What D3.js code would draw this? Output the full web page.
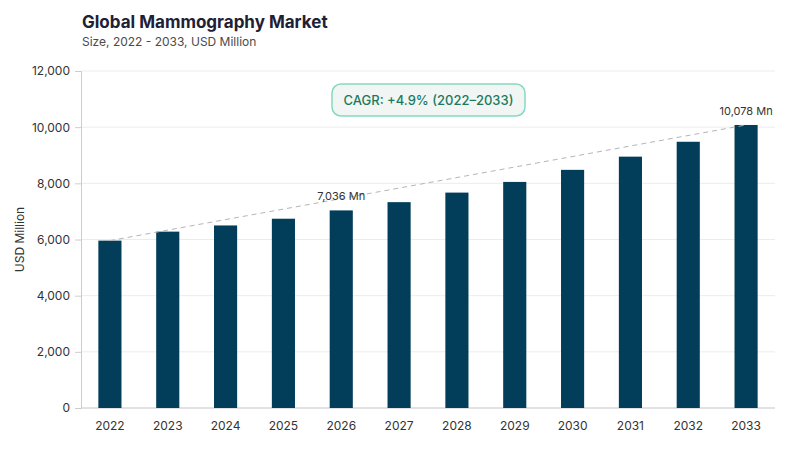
<!DOCTYPE html>
<html>
<head>
<meta charset="utf-8">
<script src="https://cdn.jsdelivr.net/npm/d3@7"></script>
<style>
  body { margin: 0; background: #fff; }
  svg { font-family: Inter, "Noto Sans", sans-serif; }
</style>
</head>
<body>
<svg id="chart"></svg>
<script>
var years = ["2022", "2023", "2024", "2025", "2026", "2027", "2028", "2029", "2030", "2031", "2032", "2033"];
var values = [5960, 6280, 6500, 6740, 7036, 7330, 7670, 8050, 8480, 8950, 9480, 10078];
var yTicks = [0, 2000, 4000, 6000, 8000, 10000, 12000];
var labelled = ["2026", "2033"];

var settings = { width: 800, height: 450 };
var margin = { left: 81, right: 25, top: 71, bottom: 42 };

var svg = d3.select("#chart")
    .attr("width", settings.width)
    .attr("height", settings.height);

var x = d3.scaleBand()
    .domain(years)
    .range([margin.left, settings.width - margin.right])
    .paddingInner(0.6)
    .paddingOuter(0.3);

var y = d3.scaleLinear()
    .domain([0, 12000])
    .range([settings.height - margin.bottom, margin.top]);

// title
svg.append("text")
    .attr("x", 82).attr("y", 28)
    .attr("font-size", 17).attr("font-weight", 700)
    .attr("fill", "#1e2035")
    .text("Global Mammography Market");
svg.append("text")
    .attr("x", 82).attr("y", 46)
    .attr("font-size", 12).attr("fill", "#4a4a4a")
    .text("Size, 2022 - 2033, USD Million");

// grid
svg.append("g")
    .selectAll("line")
    .data(yTicks)
    .enter()
    .append("line")
    .attr("x1", margin.left).attr("x2", settings.width - margin.right)
    .attr("y1", d => y(d)).attr("y2", d => y(d))
    .attr("stroke", d => d === 0 ? "#d8d8de" : "#ececec")
    .attr("stroke-width", d => d === 0 ? 1.5 : 1);

// y axis
var yAxis = svg.append("g")
    .attr("transform", "translate(" + margin.left + ",0)")
    .call(d3.axisLeft(y).tickValues(yTicks).tickFormat(d3.format(",")).tickSize(6).tickPadding(5));
yAxis.select(".domain").attr("stroke", "#cccccc");
yAxis.selectAll(".tick line").attr("stroke", "#cccccc");
yAxis.selectAll("text").attr("font-size", 12).attr("fill", "#333").attr("font-family", "Inter, sans-serif");

svg.append("text")
    .attr("transform", "translate(24," + ((margin.top + settings.height - margin.bottom) / 2) + ") rotate(-90)")
    .attr("text-anchor", "middle")
    .attr("font-size", 12).attr("fill", "#333")
    .text("USD Million");

// x axis labels
svg.append("g")
    .selectAll("text")
    .data(years)
    .enter()
    .append("text")
    .attr("x", d => x(d) + x.bandwidth() / 2)
    .attr("y", settings.height - margin.bottom + 22)
    .attr("text-anchor", "middle")
    .attr("font-size", 12).attr("fill", "#333")
    .text(d => d);

// bars
svg.append("g")
    .selectAll("rect")
    .data(values)
    .enter()
    .append("rect")
    .attr("x", (d, i) => x(years[i]))
    .attr("y", d => y(d))
    .attr("width", x.bandwidth())
    .attr("height", d => y(0) - y(d))
    .attr("fill", "#023e5a");

// trend line
var first = 0, last = values.length - 1;
svg.append("line")
    .attr("x1", x(years[first]) + x.bandwidth() / 2)
    .attr("y1", y(values[first]))
    .attr("x2", x(years[last]) + x.bandwidth() / 2)
    .attr("y2", y(values[last]))
    .attr("stroke", "#b5b5b5")
    .attr("stroke-width", 1)
    .attr("stroke-dasharray", "5,4");

// value labels
svg.append("g")
    .selectAll("text")
    .data(labelled)
    .enter()
    .append("text")
    .attr("x", d => x(d) + x.bandwidth() / 2)
    .attr("y", d => y(values[years.indexOf(d)]) - 10)
    .attr("text-anchor", "middle")
    .attr("font-size", 11).attr("fill", "#333")
    .text(d => d3.format(",")(values[years.indexOf(d)]) + " Mn");

// CAGR box
var box = svg.append("g").attr("transform", "translate(332,84)");
box.append("rect")
    .attr("width", 193).attr("height", 32)
    .attr("rx", 9)
    .attr("fill", "#f1f6f5")
    .attr("stroke", "#86d9bf")
    .attr("stroke-width", 1.5);
box.append("text")
    .attr("x", 96.5).attr("y", 21)
    .attr("text-anchor", "middle")
    .attr("font-size", 13).attr("font-weight", 500)
    .attr("fill", "#1b7a5e")
    .text("CAGR: +4.9% (2022\u20132033)");
</script>
</body>
</html>
